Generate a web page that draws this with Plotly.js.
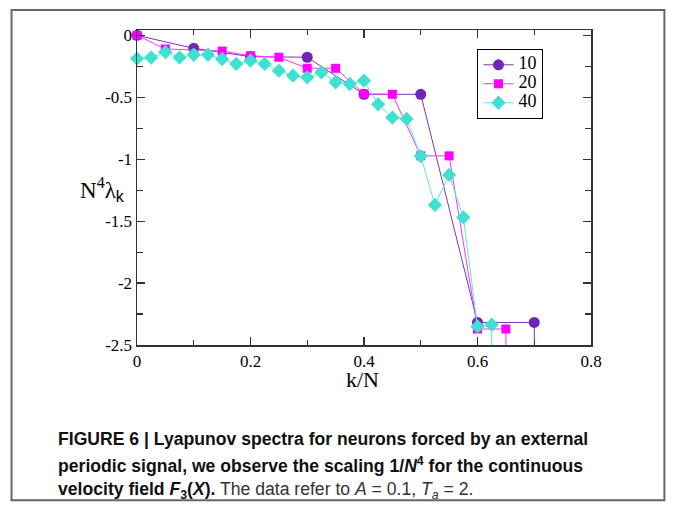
<!DOCTYPE html>
<html>
<head>
<meta charset="utf-8">
<script src="https://cdn.plot.ly/plotly-3.0.1.min.js"></script>
<style>
html,body{margin:0;padding:0;background:#fff;}
#chart{width:673px;height:507px;}
</style>
</head>
<body>
<div id="chart"></div>
<script>
// ---- data ----
const kN10 = [0, 0.1, 0.2, 0.3, 0.4, 0.5, 0.6, 0.7, 0.8];
const lam10 = [0, -0.105, -0.172, -0.177, -0.476, -0.476, -2.318, -2.318, -60];

const kN20 = [0, 0.05, 0.15, 0.2, 0.25, 0.3, 0.35, 0.4, 0.45, 0.5, 0.55, 0.6, 0.65, 0.7];
const lam20 = [0, -0.11, -0.127, -0.165, -0.177, -0.266, -0.266, -0.472, -0.476, -0.973, -0.973, -2.371, -2.371, -60];

const kN40 = [0, 0.025, 0.05, 0.075, 0.1, 0.125, 0.15, 0.175, 0.2, 0.225, 0.25, 0.275, 0.3,
              0.325, 0.35, 0.375, 0.4, 0.425, 0.45, 0.475, 0.5, 0.525, 0.55, 0.575, 0.6, 0.625, 0.65];
const lam40 = [-0.188, -0.18, -0.135, -0.178, -0.157, -0.157, -0.191, -0.231, -0.205, -0.231, -0.285, -0.326, -0.339,
               -0.298, -0.379, -0.393, -0.366, -0.557, -0.664, -0.675, -0.975, -1.369, -1.127, -1.47, -2.35, -2.336, -60];

const seriesNames = ["10", "20", "40"];
const xTickVals = [0, 0.2, 0.4, 0.6, 0.8];
const xTickText = ["0", "0.2", "0.4", "0.6", "0.8"];
const yTickVals = [0, -0.5, -1, -1.5, -2, -2.5];
const yTickText = ["0", "-0.5", "-1", "-1.5", "-2", "-2.5"];

// ---- layout geometry (pixels) ----
const W = 673, H = 507;
const L = 137.3, R = 590.7, T = 30, B = 345.5;
const pw = R - L, ph = B - T;
const px = x => (x - L) / pw;
const py = y => (B - y) / ph;

const serif = "'Liberation Serif', 'Times New Roman', Times, serif";
const sans = "'Liberation Sans', Arial, Helvetica, sans-serif";
const legName = s => "<span style=\"font-size:18px\">" + s + "</span>";

const traces = [
  {x: kN10, y: lam10, name: legName(seriesNames[0]), mode: "lines+markers", cliponaxis: false,
   line: {color: "#7a33c4", width: 1},
   marker: {symbol: "circle", size: 11, color: "#7124b8"}},
  {x: kN20, y: lam20, name: legName(seriesNames[1]), mode: "lines+markers", cliponaxis: false,
   line: {color: "#ff33ff", width: 1},
   marker: {symbol: "square", size: 9, color: "#ff00ff"}},
  {x: kN40, y: lam40, name: legName(seriesNames[2]), mode: "lines+markers", cliponaxis: false,
   line: {color: "#5fe6d8", width: 1},
   marker: {symbol: "diamond", size: 11, color: "#40e0d0"}}
];

const axisCommon = {
  showgrid: false, zeroline: false, showline: true, linecolor: "#333", linewidth: 1.5,
  mirror: "allticks", ticks: "inside", ticklen: 8, tickwidth: 1.2, tickcolor: "#333",
  tickfont: {family: serif, size: 17, color: "#000"}, tickmode: "array"
};

const layout = {
  width: W, height: H,
  margin: {l: L, r: W - R, t: T, b: H - B, pad: 0},
  paper_bgcolor: "#fff", plot_bgcolor: "#fff",
  font: {family: serif},
  showlegend: true,
  legend: {x: px(477), y: py(49), xanchor: "left", yanchor: "top",
           bordercolor: "#000", borderwidth: 1.3, bgcolor: "#fff",
           font: {family: serif, size: 11, color: "#000"}, itemwidth: 30,
           tracegroupgap: 0},
  xaxis: Object.assign({}, axisCommon, {
    range: [0, 0.8], tickvals: xTickVals, ticktext: xTickText,
    minor: {dtick: 0.1, ticks: "inside", ticklen: 5, tickwidth: 1.2, tickcolor: "#333"}
  }),
  yaxis: Object.assign({}, axisCommon, {
    range: [-2.5, 0.043], tickvals: yTickVals, ticktext: yTickText,
    minor: {dtick: 0.25, ticks: "inside", ticklen: 6, tickwidth: 1.2, tickcolor: "#333"}
  }),
  shapes: [
    {type: "rect", xref: "paper", yref: "paper",
     x0: px(12), x1: px(664), y0: py(501), y1: py(10),
     line: {color: "#666", width: 2}, layer: "below"}
  ],
  annotations: [
    {xref: "paper", yref: "paper", x: px(363), y: py(380), xanchor: "center", yanchor: "middle",
     showarrow: false, font: {family: serif, size: 22, color: "#000"}, text: "k/N"},
    {xref: "paper", yref: "paper", x: px(103), y: py(190), xanchor: "center", yanchor: "middle",
     showarrow: false, font: {family: serif, size: 23, color: "#000"},
     text: "N<sup>4</sup>λ<sub><span style=\"font-family:'Liberation Sans', Arial, sans-serif\">k</span></sub>"},
    {xref: "paper", yref: "paper", x: px(56), y: py(440), xanchor: "left", yanchor: "middle",
     showarrow: false, font: {family: sans, size: 17.6, color: "#111"},
     text: "<b>FIGURE 6 | Lyapunov spectra for neurons forced by an external</b>"},
    {xref: "paper", yref: "paper", x: px(56), y: py(466), xanchor: "left", yanchor: "middle",
     showarrow: false, font: {family: sans, size: 17.6, color: "#111"},
     text: "<b>periodic signal, we observe the scaling 1/<i>N</i><sup>4</sup> for the continuous</b>"},
    {xref: "paper", yref: "paper", x: px(56), y: py(491), xanchor: "left", yanchor: "middle",
     showarrow: false, font: {family: sans, size: 17.6, color: "#111"},
     text: "<b>velocity field <i>F</i><sub>3</sub>(<i>X</i>).</b><span style=\"color:#333\"> The data refer to <i>A</i> = 0.1, <i>T<sub>a</sub></i> = 2.</span>"}
  ]
};

Plotly.newPlot("chart", traces, layout, {staticPlot: true, displayModeBar: false});
</script>
</body>
</html>
